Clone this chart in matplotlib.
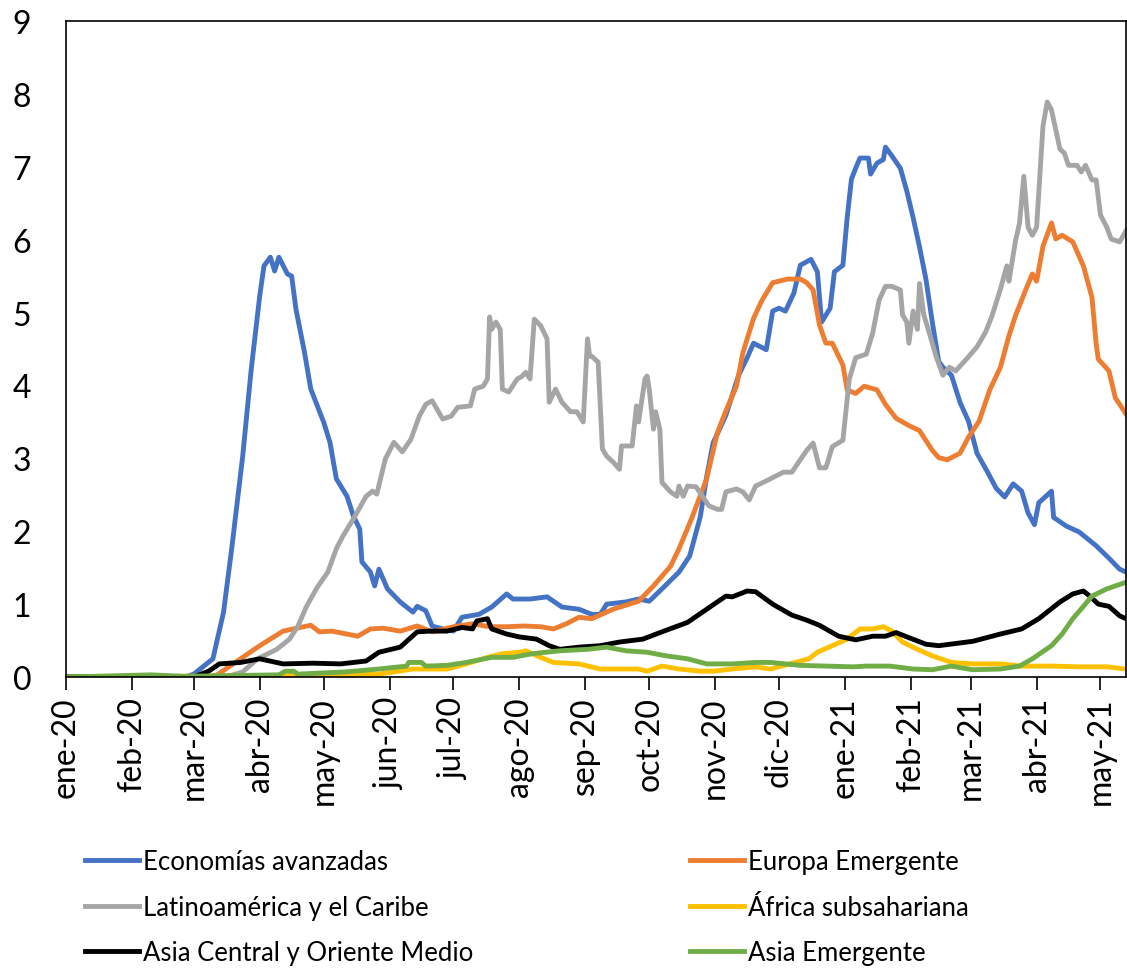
import matplotlib
matplotlib.use("Agg")
import matplotlib.pyplot as plt
import pandas as pd

plt.rcParams['font.family'] = ['Lato', 'DejaVu Sans']

start = pd.Timestamp('2020-01-01')

# days since 1 Jan 2020 and values
adv_day = [0, 56, 60, 69, 74, 78, 83, 87, 91, 93, 96, 98, 100, 104, 106, 108, 112, 115, 121, 124,
           127, 132, 135, 138, 139, 143, 145, 147, 151, 157, 163, 165, 169, 172, 177, 182, 186, 194,
           200, 207, 210, 218, 226, 233, 241, 247, 251, 254, 263, 269, 274, 280, 288, 293, 298, 301,
           304, 310, 316, 320, 323, 329, 332, 335, 338, 342, 345, 350, 353, 355, 359, 361, 365, 367,
           369, 371, 373, 377, 378, 381, 384, 385, 388, 392, 395, 398, 401, 404, 407, 410, 412, 416,
           420, 424, 428, 433, 437, 441, 445, 449, 452, 455, 457, 463, 464, 470, 476, 484, 490, 495, 498]
adv_val = [0, 0, 0.04, 0.25, 0.89, 1.8, 3.03, 4.22, 5.23, 5.64, 5.76, 5.57, 5.76, 5.53, 5.50, 5.05, 4.46, 3.95, 3.50, 3.22,
           2.72, 2.48, 2.21, 2.03, 1.58, 1.44, 1.25, 1.48, 1.21, 1.03, 0.89, 0.97, 0.91, 0.70, 0.66, 0.63, 0.82, 0.86,
           0.96, 1.14, 1.07, 1.07, 1.10, 0.96, 0.93, 0.86, 0.86, 1.0, 1.03, 1.07, 1.04, 1.21, 1.44, 1.66, 2.2, 2.75,
           3.21, 3.59, 4.14, 4.38, 4.58, 4.49, 5.02, 5.06, 5.02, 5.27, 5.65, 5.73, 5.56, 4.87, 5.06, 5.56, 5.65, 6.30,
           6.83, 6.98, 7.12, 7.12, 6.90, 7.05, 7.10, 7.27, 7.15, 6.98, 6.67, 6.30, 5.90, 5.46, 4.87, 4.33, 4.25, 4.14,
           3.77, 3.51, 3.07, 2.81, 2.59, 2.47, 2.65, 2.55, 2.25, 2.09, 2.39, 2.55, 2.19, 2.07, 1.99, 1.80, 1.63, 1.48, 1.44]

eur_day = [0, 68, 71, 82, 91, 102, 110, 115, 119, 125, 137, 143, 149, 157, 165, 172, 182, 191, 199, 207,
           215, 223, 229, 235, 241, 247, 257, 269, 276, 284, 288, 294, 301, 306, 310, 315, 318, 323, 327,
           332, 339, 345, 348, 351, 354, 357, 360, 365, 367, 371, 375, 381, 385, 390, 396, 401, 407, 410,
           414, 420, 424, 429, 434, 439, 443, 446, 451, 454, 456, 459, 463, 465, 468, 473, 478, 482, 484,
           485, 490, 493, 498]
eur_val = [0, 0, 0.03, 0.25, 0.43, 0.63, 0.68, 0.71, 0.62, 0.63, 0.56, 0.66, 0.67, 0.63, 0.70, 0.62, 0.69, 0.73, 0.69, 0.69,
           0.70, 0.69, 0.66, 0.73, 0.82, 0.80, 0.93, 1.04, 1.25, 1.52, 1.76, 2.18, 2.72, 3.35, 3.65, 3.99, 4.45, 4.92, 5.17,
           5.41, 5.46, 5.46, 5.41, 5.31, 4.83, 4.58, 4.58, 4.28, 3.94, 3.89, 3.99, 3.94, 3.74, 3.55, 3.45, 3.38, 3.11, 3.01,
           2.98, 3.07, 3.29, 3.51, 3.94, 4.25, 4.68, 4.95, 5.32, 5.53, 5.43, 5.91, 6.23, 6.01, 6.06, 5.97, 5.64, 5.21, 4.57,
           4.36, 4.20, 3.83, 3.61]

lat_day = [0, 75, 83, 90, 99, 105, 109, 113, 118, 123, 127, 130, 135, 141, 144, 146, 150, 154, 158, 162,
           166, 169, 172, 177, 181, 184, 190, 192, 196, 198, 199, 200, 202, 204, 205, 208, 212, 214, 216,
           218, 220, 223, 226, 227, 230, 233, 237, 240, 243, 245, 246, 247, 250, 252, 254, 257, 260, 261,
           266, 267, 268, 269, 272, 273, 274, 276, 277, 279, 280, 284, 287, 288, 290, 292, 296, 299, 302,
           306, 308, 310, 315, 318, 321, 324, 331, 337, 341, 348, 351, 354, 357, 360, 365, 368, 371, 376,
           379, 382, 385, 388, 392, 393, 395, 396, 398, 400, 401, 403, 406, 409, 412, 415, 418, 423, 428,
           432, 435, 439, 442, 443, 446, 448, 450, 452, 454, 456, 459, 461, 463, 467, 469, 471, 475, 477,
           479, 482, 484, 486, 489, 491, 495, 498]
lat_val = [0, 0, 0.07, 0.25, 0.38, 0.52, 0.70, 0.97, 1.23, 1.44, 1.76, 1.93, 2.17, 2.48, 2.55, 2.51, 2.99, 3.22, 3.09, 3.26,
           3.58, 3.74, 3.79, 3.54, 3.58, 3.70, 3.72, 3.95, 3.99, 4.09, 4.94, 4.77, 4.87, 4.77, 3.95, 3.91, 4.09, 4.12, 4.18,
           4.09, 4.91, 4.82, 4.64, 3.77, 3.95, 3.77, 3.64, 3.64, 3.50, 4.64, 4.40, 4.40, 4.32, 3.13, 3.03, 2.95, 2.85, 3.17,
           3.17, 3.44, 3.72, 3.50, 4.09, 4.13, 3.95, 3.40, 3.64, 3.40, 2.67, 2.54, 2.48, 2.62, 2.48, 2.62, 2.61, 2.48, 2.35,
           2.30, 2.30, 2.54, 2.58, 2.54, 2.43, 2.62, 2.72, 2.81, 2.81, 3.11, 3.21, 2.87, 2.87, 3.16, 3.25, 4.09, 4.38, 4.43,
           4.72, 5.17, 5.36, 5.36, 5.31, 4.97, 4.87, 4.58, 5.02, 4.77, 5.40, 4.97, 4.68, 4.38, 4.14, 4.25, 4.20, 4.36, 4.53,
           4.73, 4.95, 5.32, 5.64, 5.43, 5.97, 6.23, 6.87, 6.17, 6.06, 6.17, 7.56, 7.89, 7.78, 7.24, 7.19, 7.02, 7.02, 6.93,
           7.02, 6.82, 6.82, 6.34, 6.17, 6.01, 5.97, 6.12]

afr_day = [0, 105, 147, 163, 179, 188, 198, 205, 213, 216, 223, 229, 241, 251, 260, 269, 273, 280, 288, 298,
           304, 313, 324, 331, 340, 349, 353, 360, 367, 373, 379, 384, 388, 393, 400, 407, 416, 426, 439,
           449, 463, 476, 489, 498]
afr_val = [0, 0.02, 0.04, 0.11, 0.11, 0.18, 0.27, 0.32, 0.34, 0.36, 0.27, 0.20, 0.18, 0.11, 0.11, 0.11, 0.08, 0.15, 0.11, 0.08,
           0.08, 0.11, 0.14, 0.11, 0.18, 0.25, 0.34, 0.43, 0.52, 0.66, 0.66, 0.69, 0.63, 0.48, 0.38, 0.29, 0.20, 0.18, 0.18,
           0.15, 0.15, 0.14, 0.14, 0.11]

asc_day = [0, 60, 67, 72, 82, 91, 102, 116, 129, 141, 147, 157, 165, 171, 179, 186, 191, 193, 198, 200,
           207, 213, 221, 227, 232, 241, 251, 260, 271, 280, 292, 301, 310, 313, 320, 324, 332, 341, 348,
           354, 363, 371, 379, 385, 390, 396, 404, 410, 426, 439, 449, 457, 467, 473, 478, 481, 485, 490,
           495, 498]
asc_val = [0, 0, 0.08, 0.18, 0.20, 0.25, 0.18, 0.19, 0.18, 0.22, 0.34, 0.41, 0.62, 0.63, 0.63, 0.68, 0.66, 0.77, 0.80, 0.66,
           0.59, 0.55, 0.52, 0.43, 0.38, 0.41, 0.43, 0.48, 0.52, 0.62, 0.75, 0.93, 1.11, 1.10, 1.18, 1.17, 1.00, 0.85, 0.78,
           0.71, 0.56, 0.51, 0.56, 0.56, 0.61, 0.54, 0.45, 0.43, 0.49, 0.59, 0.66, 0.80, 1.03, 1.14, 1.18, 1.11, 1.00, 0.97,
           0.84, 0.80]

ase_day = [0, 40, 55, 100, 103, 107, 109, 131, 147, 160, 161, 167, 169, 179, 188, 200, 210, 219, 232, 245,
           254, 263, 273, 282, 292, 301, 313, 324, 331, 345, 357, 370, 376, 387, 398, 407, 416, 426, 439,
           448, 454, 463, 468, 473, 478, 482, 489, 493, 498]
ase_val = [0, 0.03, 0.01, 0.03, 0.08, 0.08, 0.04, 0.07, 0.11, 0.15, 0.20, 0.20, 0.15, 0.16, 0.20, 0.27, 0.27, 0.32, 0.36, 0.38,
           0.41, 0.36, 0.34, 0.29, 0.25, 0.18, 0.18, 0.20, 0.20, 0.16, 0.15, 0.14, 0.15, 0.15, 0.11, 0.10, 0.15, 0.10, 0.11,
           0.15, 0.25, 0.43, 0.59, 0.80, 0.97, 1.11, 1.21, 1.25, 1.30]

month_labels = ['ene-20', 'feb-20', 'mar-20', 'abr-20', 'may-20', 'jun-20', 'jul-20', 'ago-20', 'sep-20',
                'oct-20', 'nov-20', 'dic-20', 'ene-21', 'feb-21', 'mar-21', 'abr-21', 'may-21']

series = [
    ('Economías avanzadas', adv_day, adv_val, '#4472C4'),
    ('Europa Emergente', eur_day, eur_val, '#ED7D31'),
    ('Latinoamérica y el Caribe', lat_day, lat_val, '#A5A5A5'),
    ('África subsahariana', afr_day, afr_val, '#FFC000'),
    ('Asia Central y Oriente Medio', asc_day, asc_val, '#000000'),
    ('Asia Emergente', ase_day, ase_val, '#70AD47'),
]

fig = plt.figure(figsize=(11.27, 9.70), dpi=100)
ax = fig.add_axes([0.0586, 0.301, 0.9405, 0.6763])

lines = {}
for name, d, v, c in series:
    dates = start + pd.to_timedelta(d, unit='D')
    ln, = ax.plot(dates, v, color=c, lw=3.5, label=name, solid_joinstyle='round')
    lines[name] = ln

ax.set_ylim(0, 9)
ax.set_yticks(range(0, 10))
ax.set_xlim(start, start + pd.Timedelta(days=498))
ax.set_xticks(pd.date_range('2020-01-01', '2021-05-01', freq='MS'))
ax.set_xticklabels(month_labels, rotation=90)

ax.tick_params(axis='y', length=0, pad=25, labelsize=23)
ax.tick_params(axis='x', length=9, width=1.2, direction='out', pad=5, labelsize=23)
for s in ax.spines.values():
    s.set_linewidth(1.2)
    s.set_color('black')

names = [s[0] for s in series]
col1 = [lines[n] for n in names[0::2]]
col2 = [lines[n] for n in names[1::2]]
for hs, x0 in [(col1, 85 / 1127), (col2, 690 / 1127)]:
    fig.legend(handles=hs, labels=[h.get_label() for h in hs], loc='upper left',
               bbox_to_anchor=(x0, 1 - 850 / 970), frameon=False, fontsize=18.5,
               handlelength=2.1, handletextpad=0.15, labelspacing=0.8,
               borderpad=0, borderaxespad=0)

fig.savefig('out.png', dpi=100)
